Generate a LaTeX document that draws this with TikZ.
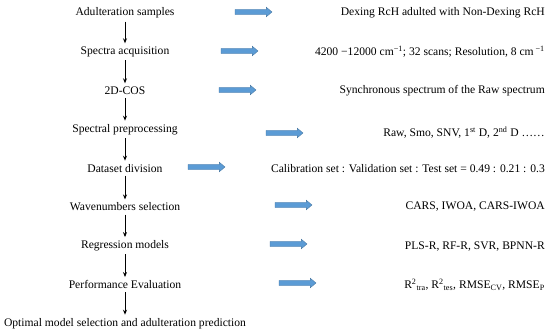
\documentclass[tikz,border=0pt]{standalone}
\usepackage{fontspec}
\setmainfont{Liberation Serif}
\usetikzlibrary{arrows.meta,shapes.arrows}
\definecolor{arrowblue}{RGB}{91,155,213}
\definecolor{arrowedge}{RGB}{65,113,156}
\begin{document}
\begin{tikzpicture}[
  stage/.style={inner sep=3.2pt, font=\fontsize{11.6}{13}\selectfont},
  note/.style={inner sep=0pt, anchor=east, font=\fontsize{11.6}{13}\selectfont},
  flowarrow/.style={single arrow, fill=arrowblue, draw=arrowedge, line width=0.3pt,
    minimum height=37pt, minimum width=9pt, inner sep=2.4pt,
    single arrow head extend=2.2pt, single arrow tip angle=80},
  node distance=38.8pt
]
\useasboundingbox (0,0) rectangle (550pt,-336pt);
\coordinate (rightedge) at (545pt,0);
\node[stage] (samples) at (125pt,-13pt) {Adulteration samples};
\node[stage, below of=samples] (spectra) {Spectra acquisition};
\node[stage, below of=spectra] (cos) {2D-COS};
\node[stage, below of=cos] (prep) {Spectral preprocessing};
\node[stage, below of=prep] (division) {Dataset division};
\node[stage, below of=division] (wavenum) {Wavenumbers selection};
\node[stage, below of=wavenum] (regress) {Regression models};
\node[stage, below of=regress] (evaluate) {Performance Evaluation};
\node[stage, below of=evaluate] (optimal) {Optimal model selection and adulteration prediction};
\draw[-{Stealth[length=5pt,width=4pt]}, line width=0.9pt] (samples) -- (spectra);
\draw[-{Stealth[length=5pt,width=4pt]}, line width=0.9pt] (spectra) -- (cos);
\draw[-{Stealth[length=5pt,width=4pt]}, line width=0.9pt] (cos) -- (prep);
\draw[-{Stealth[length=5pt,width=4pt]}, line width=0.9pt] (prep) -- (division);
\draw[-{Stealth[length=5pt,width=4pt]}, line width=0.9pt] (division) -- (wavenum);
\draw[-{Stealth[length=5pt,width=4pt]}, line width=0.9pt] (wavenum) -- (regress);
\draw[-{Stealth[length=5pt,width=4pt]}, line width=0.9pt] (regress) -- (evaluate);
\draw[-{Stealth[length=5pt,width=4pt]}, line width=0.9pt] (evaluate) -- (optimal);
% details on the right
\node[note] (samplesnote) at (samples -| rightedge) {Dexing RcH adulted with Non-Dexing RcH};
\node[note] (spectranote) at (spectra -| rightedge) {4200 −12000 cm\textsuperscript{−1}; 32 scans; Resolution, 8 cm\,\textsuperscript{−1}};
\node[note] (cosnote) at (cos -| rightedge) {Synchronous spectrum of the Raw spectrum};
\node[note, yshift=-3pt] (prepnote) at (prep -| rightedge) {Raw, Smo, SNV, 1\textsuperscript{st} D, 2\textsuperscript{nd} D ……};
\node[note] (divisionnote) at (division -| rightedge) {Calibration set : Validation set : Test set = 0.49 : 0.21 : 0.3};
\node[note] (wavenumnote) at (wavenum -| rightedge) {CARS, IWOA, CARS-IWOA};
\node[note, yshift=-1pt] (regressnote) at (regress -| rightedge) {PLS-R, RF-R, SVR, BPNN-R};
\node[note] (evaluatenote) at (evaluate -| rightedge) {R\textsuperscript{2}\textsubscript{tra}, R\textsuperscript{2}\textsubscript{tes}, RMSE\textsubscript{CV}, RMSE\textsubscript{P}};
% blue arrows
\node[flowarrow] (arrow1) at (252pt,-12pt) {};
\node[flowarrow] (arrow2) at (238pt,-51pt) {};
\node[flowarrow] (arrow3) at (236pt,-90pt) {};
\node[flowarrow] (arrow4) at (283pt,-133pt) {};
\node[flowarrow] (arrow5) at (205pt,-167pt) {};
\node[flowarrow] (arrow6) at (292pt,-205pt) {};
\node[flowarrow] (arrow7) at (287pt,-244pt) {};
\node[flowarrow] (arrow8) at (296pt,-283pt) {};
\end{tikzpicture}
\end{document}
